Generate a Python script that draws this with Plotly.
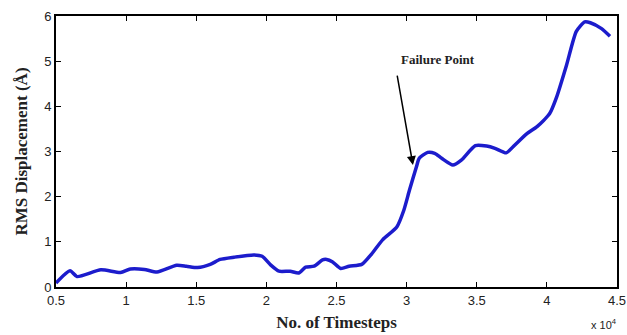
import plotly.graph_objects as go

# Data (timesteps, RMS displacement in Å)
timesteps = [5000, 6000, 6500, 8200, 9600, 10300, 11300, 12200, 13600, 14300, 15100,
             16000, 16700, 17700, 19100, 19700, 20300, 20900, 21700, 22300, 22800,
             23400, 24000, 24300, 24700, 25300, 25900, 26800, 27500, 28300, 29300,
             29800, 30200, 30700, 30900, 31500, 32000, 32500, 33300, 33900, 34900,
             35700, 36300, 37100, 37700, 38600, 39300, 40200, 40700, 41400, 42100,
             42700, 43100, 43900, 44500]
rms = [0.09, 0.36, 0.23, 0.38, 0.32, 0.40, 0.39, 0.33, 0.48, 0.46, 0.43,
       0.50, 0.61, 0.66, 0.71, 0.68, 0.49, 0.35, 0.35, 0.31, 0.44,
       0.46, 0.60, 0.61, 0.56, 0.41, 0.46, 0.50, 0.73, 1.05, 1.33,
       1.70, 2.14, 2.66, 2.85, 2.98, 2.96, 2.85, 2.70, 2.81, 3.13,
       3.12, 3.07, 2.97, 3.14, 3.40, 3.55, 3.84, 4.21, 4.91, 5.66,
       5.87, 5.85, 5.72, 5.55]

x_tickvals = [5000, 10000, 15000, 20000, 25000, 30000, 35000, 40000, 45000]
x_ticktext = ["0.5", "1", "1.5", "2", "2.5", "3", "3.5", "4", "4.5"]
y_tickvals = [0, 1, 2, 3, 4, 5, 6]

fig = go.Figure()
fig.add_trace(go.Scatter(x=timesteps, y=rms, mode="lines",
                         line=dict(color="#1c1ccc", width=3.5, shape="spline", smoothing=0.6),
                         showlegend=False, hoverinfo="skip"))

fig.add_annotation(x=30450, y=2.7, ax=-16, ay=-91, xref="x", yref="y",
                   text="", showarrow=True, arrowhead=2, arrowsize=1.2,
                   arrowwidth=1.5, arrowcolor="black")
fig.add_annotation(x=30450, y=2.7, xref="x", yref="y", xshift=25, yshift=106,
                   text="<b>Failure Point</b>", showarrow=False,
                   font=dict(family="Liberation Serif", size=13, color="#222"))
fig.add_annotation(x=1.0, y=-0.135, xref="paper", yref="paper", xanchor="right",
                   xshift=2, yanchor="middle",
                   text="x 10<sup>4</sup>", showarrow=False,
                   font=dict(family="Liberation Sans", size=11, color="#222"))

axis_common = dict(showgrid=False, zeroline=False, showline=True, mirror="ticks",
                   linecolor="black", linewidth=2, ticks="inside", ticklen=5,
                   tickcolor="black", automargin=False,
                   tickfont=dict(family="Liberation Sans", size=13, color="#222"))

fig.update_xaxes(range=[5000, 45000], tickvals=x_tickvals, ticktext=x_ticktext,
                 title=dict(text="<b>No. of Timesteps</b>", standoff=10,
                            font=dict(family="Liberation Serif", size=17, color="#222")),
                 **axis_common)
fig.update_yaxes(range=[0, 6], tickvals=y_tickvals,
                 title=dict(text="<b>RMS Displacement (Å)</b>", standoff=12,
                            font=dict(family="Liberation Serif", size=17, color="#222")),
                 **axis_common)

fig.update_layout(width=627, height=335, margin=dict(l=56, r=10, t=16, b=48),
                  plot_bgcolor="white", paper_bgcolor="white")

fig.write_html("out.html")
